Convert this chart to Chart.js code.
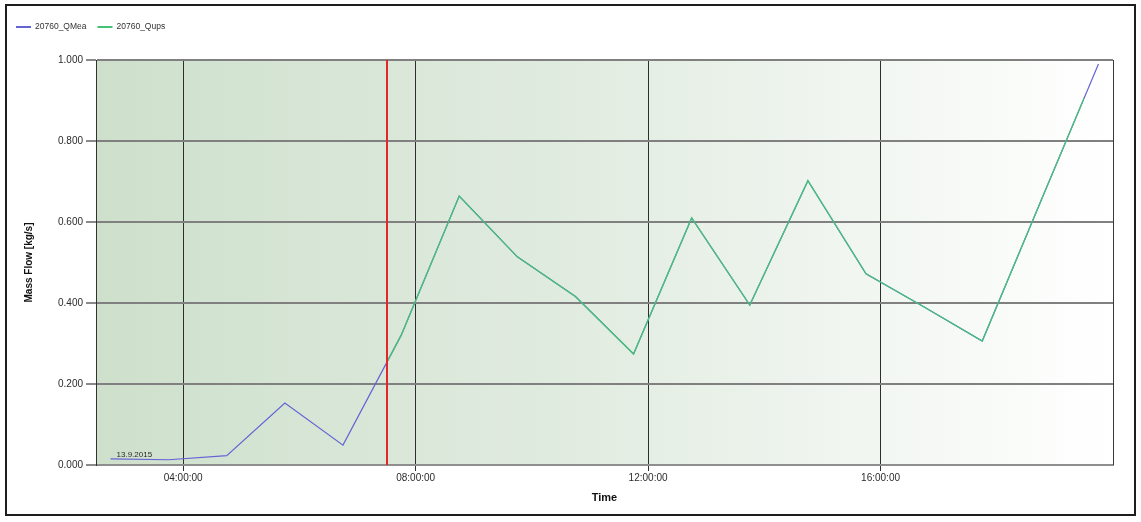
<!DOCTYPE html>
<html>
<head>
<meta charset="utf-8">
<script src="https://cdn.jsdelivr.net/npm/chart.js@4.4.1/dist/chart.umd.min.js"></script>
<style>
  html, body { margin: 0; padding: 0; background: #ffffff; }
  #wrap { position: relative; width: 1141px; height: 522px; }
  #chart { position: absolute; left: 0; top: 0; }
  #frame { position: absolute; left: 5px; top: 4px; width: 1127px; height: 508px;
           border: 2px solid #1e1e1e; pointer-events: none; }
</style>
</head>
<body>
<div id="wrap">
  <canvas id="chart" width="1141" height="522"></canvas>
  <div id="frame"></div>
</div>
<script>
// Hourly samples (hour of day, 13.9.2015)
const sampleHours = [2.75, 3.75, 4.75, 5.75, 6.75, 7.75, 8.75, 9.75, 10.75,
                     11.75, 12.75, 13.75, 14.75, 15.75, 16.75, 17.75, 18.75, 19.75];
// 20760_QMea – measured mass flow [kg/s]
const qmeaValues = [0.015, 0.013, 0.023, 0.153, 0.049, 0.320, 0.664, 0.514, 0.416,
                    0.274, 0.610, 0.395, 0.702, 0.472, 0.390, 0.306, 0.649, 0.990];
// 20760_Qups – upstream flow, shown over its 12 h window starting at "now"
const qupsHours  = [6.75, 7.75, 8.75, 9.75, 10.75, 11.75, 12.75, 13.75,
                    14.75, 15.75, 16.75, 17.75, 18.75, 19.75];
const qupsValues = [0.049, 0.320, 0.664, 0.514, 0.416, 0.274, 0.610, 0.395,
                    0.702, 0.472, 0.390, 0.306, 0.649, 0.990];
const qupsWindow = [7.5, 19.5];
const nowHour = 7.5;

const timeTickHours  = [4, 8, 12, 16];
const timeTickLabels = ['04:00:00', '08:00:00', '12:00:00', '16:00:00'];
const flowTicks = [0, 0.2, 0.4, 0.6, 0.8, 1.0];
const dateLabel = '13.9.2015';

const FONT = '"Liberation Sans", Arial, sans-serif';
const QMEA_COLOR = '#6464d6';
const QUPS_COLOR = '#45c275';

// Green-to-white backdrop behind the plot area
const backdrop = {
  id: 'backdrop',
  beforeDraw(chart) {
    const { ctx, chartArea: a } = chart;
    const g = ctx.createLinearGradient(a.left, 0, a.right, 0);
    g.addColorStop(0, 'rgb(206,224,204)');
    g.addColorStop(0.45, 'rgb(224,235,223)');
    g.addColorStop(1, 'rgb(255,255,255)');
    ctx.save();
    ctx.fillStyle = g;
    ctx.fillRect(a.left, a.top, a.right - a.left, a.bottom - a.top);
    ctx.restore();
  }
};

// Restrict the Qups line to its forecast window
const qupsClip = {
  id: 'qupsClip',
  beforeDatasetDraw(chart, args) {
    if (args.index !== 1) return;
    const { ctx, chartArea: a, scales: { x } } = chart;
    const x0 = x.getPixelForValue(qupsWindow[0]);
    const x1 = x.getPixelForValue(qupsWindow[1]);
    ctx.save();
    ctx.beginPath();
    ctx.rect(x0, a.top - 3, x1 - x0, a.bottom - a.top + 6);
    ctx.clip();
  },
  afterDatasetDraw(chart, args) {
    if (args.index === 1) chart.ctx.restore();
  }
};

// "Now" marker, right border, date caption and legend
const overlay = {
  id: 'overlay',
  afterDatasetsDraw(chart) {
    const { ctx, chartArea: a, scales: { x, y } } = chart;
    const nx = Math.round(x.getPixelForValue(nowHour));
    ctx.save();
    ctx.strokeStyle = '#e3262a';
    ctx.lineWidth = 2;
    ctx.beginPath();
    ctx.moveTo(nx, a.top);
    ctx.lineTo(nx, a.bottom);
    ctx.stroke();

    ctx.strokeStyle = '#3a3a3a';
    ctx.lineWidth = 1;
    ctx.beginPath();
    ctx.moveTo(a.right + 0.5, a.top);
    ctx.lineTo(a.right + 0.5, a.bottom);
    ctx.stroke();

    ctx.fillStyle = '#2a2a2a';
    ctx.font = '8px ' + FONT;
    ctx.textBaseline = 'alphabetic';
    ctx.textAlign = 'left';
    ctx.fillText(dateLabel, x.getPixelForValue(sampleHours[0]) + 6,
                 y.getPixelForValue(qmeaValues[0]) - 1.5);
    ctx.restore();
  },
  afterDraw(chart) {
    const ctx = chart.ctx;
    ctx.save();
    ctx.font = '8.5px ' + FONT;
    ctx.textBaseline = 'middle';
    ctx.textAlign = 'left';
    let cx = 16;
    const cy = 27;
    chart.data.datasets.forEach(ds => {
      ctx.strokeStyle = ds.borderColor;
      ctx.lineWidth = 2;
      ctx.beginPath();
      ctx.moveTo(cx, cy);
      ctx.lineTo(cx + 15, cy);
      ctx.stroke();
      ctx.fillStyle = '#333333';
      ctx.fillText(ds.label, cx + 19, cy);
      cx += 19 + ctx.measureText(ds.label).width + 11;
    });
    ctx.restore();
  }
};

new Chart(document.getElementById('chart'), {
  type: 'line',
  data: {
    datasets: [
      {
        label: '20760_QMea',
        data: sampleHours.map((h, i) => ({ x: h, y: qmeaValues[i] })),
        borderColor: QMEA_COLOR,
        backgroundColor: QMEA_COLOR,
        borderWidth: 1.2,
        order: 1
      },
      {
        label: '20760_Qups',
        data: qupsHours.map((h, i) => ({ x: h, y: qupsValues[i] })),
        borderColor: QUPS_COLOR,
        backgroundColor: QUPS_COLOR,
        borderWidth: 1.3,
        order: 0
      }
    ]
  },
  options: {
    responsive: false,
    animation: false,
    devicePixelRatio: 1,
    layout: { padding: { left: 0, top: 60, right: 28, bottom: 0 } },
    elements: { point: { radius: 0 }, line: { tension: 0, fill: false } },
    plugins: { legend: { display: false }, tooltip: { enabled: false } },
    scales: {
      x: {
        type: 'linear',
        min: 2.5,
        max: 20,
        afterBuildTicks: s => { s.ticks = timeTickHours.map(v => ({ value: v })); },
        afterFit: s => { s.height = 57; },
        ticks: {
          autoSkip: false,
          maxRotation: 0,
          padding: 1,
          color: '#2b2b2b',
          font: { family: FONT, size: 10 },
          callback: v => timeTickLabels[timeTickHours.indexOf(v)]
        },
        grid: { color: '#2e2e2e', lineWidth: 1, tickLength: 6, tickColor: '#2e2e2e' },
        border: { display: true, color: '#8e8e8e', width: 2 },
        title: {
          display: true, text: 'Time', color: '#111111',
          font: { family: FONT, size: 11, weight: 'bold' },
          padding: { top: 0, bottom: 17 }
        }
      },
      y: {
        min: 0,
        max: 1,
        afterBuildTicks: s => { s.ticks = flowTicks.map(v => ({ value: v })); },
        afterFit: s => { s.width = 96; },
        ticks: {
          padding: 3,
          color: '#2b2b2b',
          font: { family: FONT, size: 10 },
          callback: v => Number(v).toFixed(3)
        },
        grid: { color: '#808080', lineWidth: 2, tickLength: 10, tickColor: '#8a8a8a' },
        border: { display: true, color: '#333333', width: 1 },
        title: {
          display: true, text: 'Mass Flow [kg/s]', color: '#111111',
          font: { family: FONT, size: 10, weight: 'bold' },
          padding: { top: 23, bottom: 0 }
        }
      }
    }
  },
  plugins: [backdrop, qupsClip, overlay]
});
</script>
</body>
</html>
